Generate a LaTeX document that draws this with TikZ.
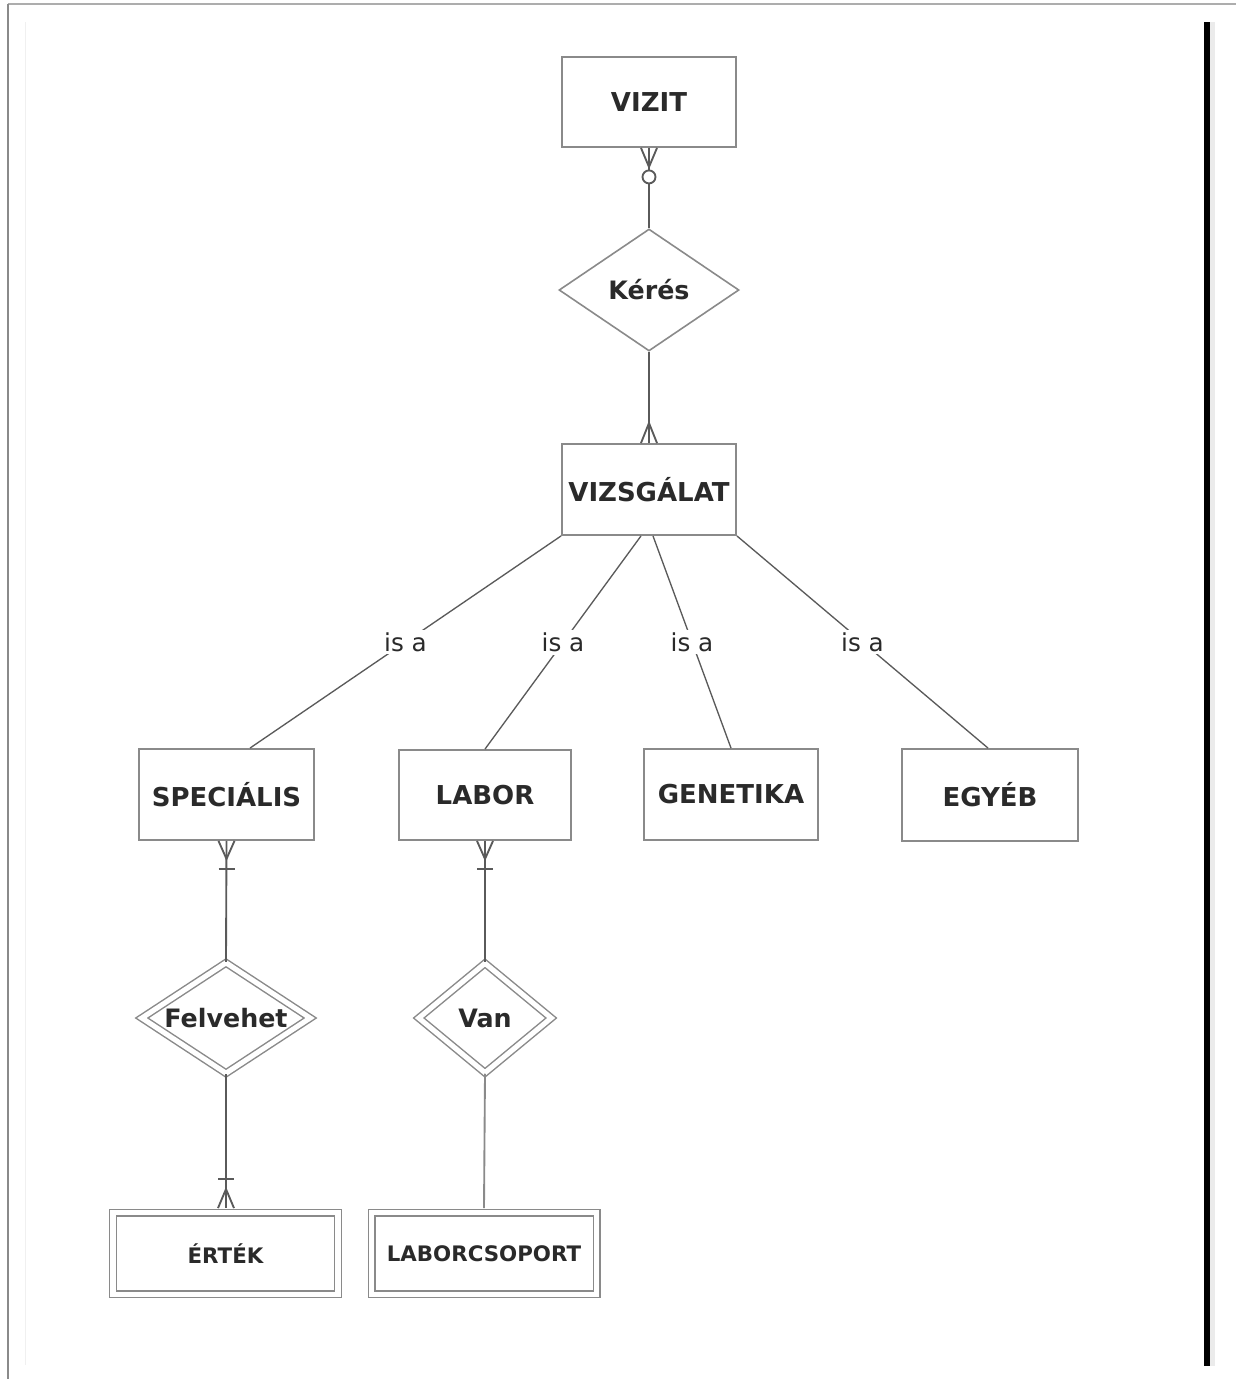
\documentclass[tikz,border=0pt]{standalone}
\usepackage{fontspec}
\setmainfont{DejaVu Sans}
\usetikzlibrary{shapes.geometric,calc}
\definecolor{boxline}{HTML}{8A8A8A}
\definecolor{connline}{HTML}{5A5A5A}
\definecolor{txt}{HTML}{2A2A2A}
\newcommand\crowft[2]{\draw[conn] ($(#1)+(-8,0)$) -- ($(#1)+(0,#2)$) -- ($(#1)+(8,0)$);}
\newcommand\barmark[2]{\draw[conn] ($(#1)+(-8,#2)$) -- ($(#1)+(8,#2)$);}
\begin{document}
\begin{tikzpicture}[x=0.75pt,y=-0.75pt,
  entity/.style={draw=boxline,line width=1.4pt,rectangle,text=txt,
    font=\bfseries\fontsize{19.5}{22}\selectfont,inner sep=0pt},
  weakent/.style={draw=boxline,line width=1.1pt,double=white,double distance=3.8pt,
    rectangle,text=txt,font=\bfseries\fontsize{16}{19}\selectfont,inner sep=0pt,
    minimum width=168.75pt,minimum height=61pt},
  rel/.style={draw=boxline,line width=1.2pt,diamond,text=txt,
    font=\bfseries\fontsize{19}{22}\selectfont,inner sep=0pt,shape aspect=1.5},
  weakrel/.style={rel,double=white,double distance=3.8pt,line width=1.1pt},
  conn/.style={draw=connline,line width=1.4pt},
  isa/.style={draw=connline,line width=1pt},
  isalbl/.style={fill=white,text=txt,font=\fontsize{18.5}{21}\selectfont,inner sep=2pt}
]
\useasboundingbox (0,0) rectangle (1236,1379);
% frame
\draw[boxline!70,line width=1.2pt] (7.5,4) -- (1236,4);
\draw[boxline,line width=1.5pt] (7.5,4) -- (7.5,1379);
\draw[black!6,line width=0.6pt] (25,22) -- (25,1365);
\fill[black!8] (1209,22) rectangle (1215,1366);
\fill[black] (1204,22) rectangle (1209.5,1366);

% nodes
\node[entity,minimum width=130.5pt,minimum height=67.5pt] (vizit) at (649,102) {VIZIT};
\node[rel,minimum width=135pt,minimum height=91.5pt] (keres) at (649,290) {Kérés};
\node[entity,minimum width=130.5pt,minimum height=68.25pt] (vizsg) at (649,489.5) {VIZSGÁLAT};
\node[entity,minimum width=131.25pt,minimum height=68.25pt] (spec) at (226.5,794.5) {SPECIÁLIS};
\node[entity,minimum width=129pt,minimum height=67.5pt] (labor) at (485,795) {LABOR};
\node[entity,minimum width=130.5pt,minimum height=68.25pt] (gen) at (731,794.5) {GENETIKA};
\node[entity,minimum width=132pt,minimum height=69pt] (egyeb) at (990,795) {EGYÉB};
\node[weakrel,minimum width=126.75pt,minimum height=83.25pt] (felv) at (226,1018) {Felvehet};
\node[weakrel,minimum width=99.75pt,minimum height=82.5pt] (van) at (485,1018) {Van};
\node[weakent] (ertek) at (225.5,1253.5) {ÉRTÉK};
\node[weakent] (lcs) at (484,1253.5) {LABORCSOPORT};

% VIZIT - Kérés (zero or many at VIZIT)
\draw[conn] (vizit.south) -- (keres.north);
\crowft{vizit.south}{19}
\draw[conn,fill=white] ($(vizit.south)+(0,29)$) circle[radius=6.5];

% Kérés - VIZSGÁLAT (many at VIZSGÁLAT)
\draw[conn] (keres.south) -- (vizsg.north);
\crowft{vizsg.north}{-20}

% is a
\draw[isa] (vizsg.south west) -- node[isalbl,pos=0.5]{is a} ($(spec.north)+(23.5,0)$);
\draw[isa] ($(vizsg.south)+(-8,0)$) -- node[isalbl,pos=0.5]{is a} (labor.north);
\draw[isa] ($(vizsg.south)+(4,0)$) -- node[isalbl,pos=0.5]{is a} (gen.north);
\draw[isa] (vizsg.south east) -- node[isalbl,pos=0.5]{is a} ($(egyeb.north)+(-2,0)$);

% SPECIÁLIS - Felvehet - ÉRTÉK
\draw[conn] (spec.south) -- (felv.north);
\crowft{spec.south}{18}
\barmark{spec.south}{28}
\draw[conn] (felv.south) -- ($(ertek.north)+(0.5,-4)$);
\crowft{$(ertek.north)+(0.5,-4)$}{-19}
\barmark{$(ertek.north)+(0.5,-4)$}{-29}

% LABOR - Van - LABORCSOPORT
\draw[conn] (labor.south) -- (van.north);
\crowft{labor.south}{18}
\barmark{labor.south}{28}
\draw[isa,line width=1.4pt,draw=boxline] (van.south) -- ($(lcs.north)+(0,-4)$);
\end{tikzpicture}
\end{document}
